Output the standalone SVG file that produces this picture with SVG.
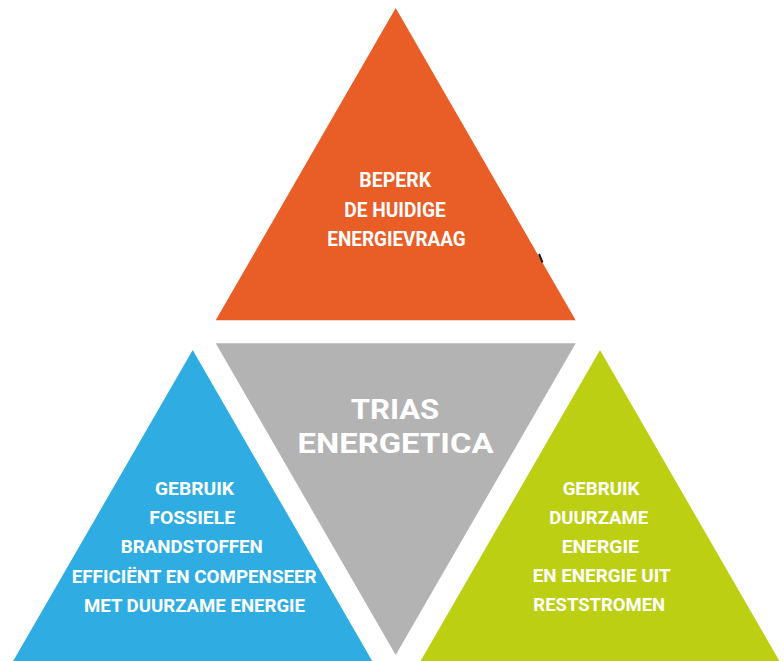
<svg xmlns="http://www.w3.org/2000/svg" width="784" height="661" viewBox="0 0 784 661">
<style>
.t{font-family:Roboto,"Liberation Sans",Arial,sans-serif;font-weight:bold;fill:#ffffff;text-anchor:middle}
.s{font-size:17.5px}
.o{font-size:19.5px}
.g{font-size:28px}
</style>
<rect width="784" height="661" fill="#ffffff"/>
<g id="node-orange">
<path d="M395.7,8 L575.7,320.3 L215.7,320.3 Z" fill="#E95D27"/>
<text class="t o" x="395.2" y="187.3" textLength="71.7" lengthAdjust="spacingAndGlyphs">BEPERK</text>
<text class="t o" x="395" y="217.3" textLength="101.3" lengthAdjust="spacingAndGlyphs">DE HUIDIGE</text>
<text class="t o" x="396.5" y="246" textLength="138.4" lengthAdjust="spacingAndGlyphs">ENERGIEVRAAG</text>
</g>
<g id="node-gray">
<path d="M215.7,343.3 L575.7,343.3 L395.7,655 Z" fill="#B3B3B3"/>
<text class="t g" x="395" y="419.3" textLength="88.5" lengthAdjust="spacingAndGlyphs">TRIAS</text>
<text class="t g" x="395.5" y="452.7" textLength="196" lengthAdjust="spacingAndGlyphs">ENERGETICA</text>
</g>
<g id="node-blue">
<path d="M192.7,350 L372.8,662 L12.6,662 Z" fill="#2FADE3"/>
<text class="t s" x="194.5" y="495.3" textLength="79" lengthAdjust="spacingAndGlyphs">GEBRUIK</text>
<text class="t s" x="192.2" y="524.2" textLength="85.7" lengthAdjust="spacingAndGlyphs">FOSSIELE</text>
<text class="t s" x="191.7" y="553.3" textLength="142" lengthAdjust="spacingAndGlyphs">BRANDSTOFFEN</text>
<text class="t s" x="194.2" y="582.7" textLength="245" lengthAdjust="spacingAndGlyphs">EFFICIËNT EN COMPENSEER</text>
<text class="t s" x="194.5" y="611.7" textLength="221" lengthAdjust="spacingAndGlyphs">MET DUURZAME ENERGIE</text>
</g>
<g id="node-green">
<path d="M600,350 L780,662 L420,662 Z" fill="#BDCF12"/>
<text class="t s" x="601" y="495.3" textLength="76.7" lengthAdjust="spacingAndGlyphs">GEBRUIK</text>
<text class="t s" x="598.8" y="524" textLength="99" lengthAdjust="spacingAndGlyphs">DUURZAME</text>
<text class="t s" x="600.3" y="553" textLength="77.3" lengthAdjust="spacingAndGlyphs">ENERGIE</text>
<text class="t s" x="601.7" y="582" textLength="138" lengthAdjust="spacingAndGlyphs">EN ENERGIE UIT</text>
<text class="t s" x="599.2" y="611" textLength="131.7" lengthAdjust="spacingAndGlyphs">RESTSTROMEN</text>
</g>
<g id="connectors"></g>
<line x1="539" y1="254" x2="542.5" y2="262.5" stroke="#1a1a1a" stroke-width="2"/>
</svg>
